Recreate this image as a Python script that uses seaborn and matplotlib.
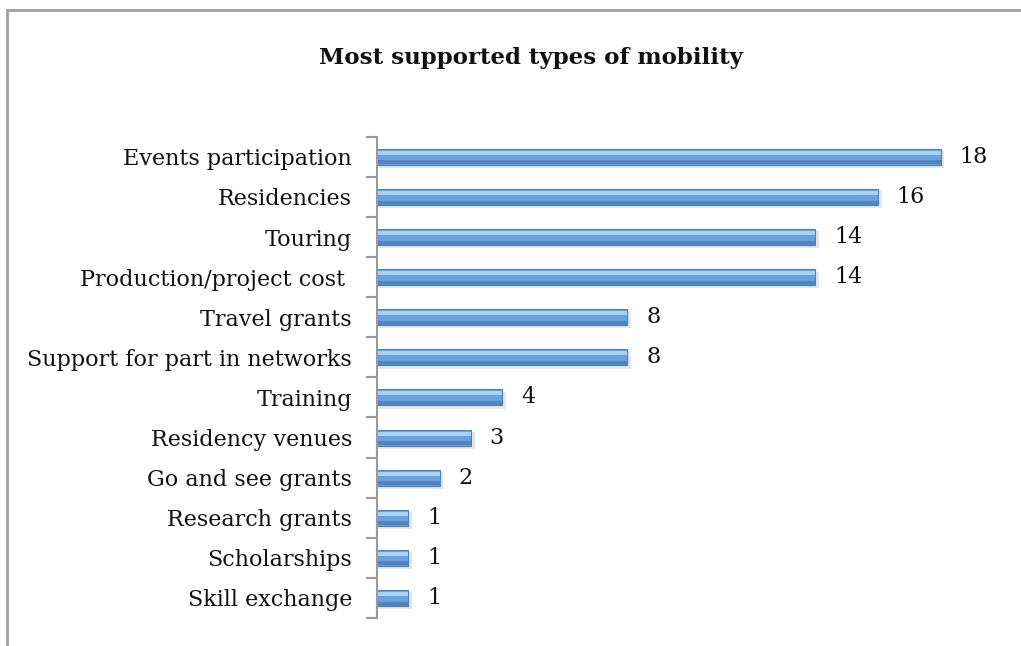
import numpy as np
import matplotlib
matplotlib.use("Agg")
import matplotlib.pyplot as plt
import matplotlib.patches as mpatches
import seaborn as sns
import pandas as pd

# data
categories = ["Events participation", "Residencies", "Touring",
              "Production/project cost ", "Travel grants",
              "Support for part in networks", "Training", "Residency venues",
              "Go and see grants", "Research grants", "Scholarships",
              "Skill exchange"]
counts = [18, 16, 14, 14, 8, 8, 4, 3, 2, 1, 1, 1]

sns.set_theme(style="white")
plt.rcParams["font.family"] = ["DejaVu Serif"]

df = pd.DataFrame({"type": categories, "n": counts})
pos = np.arange(len(counts))

fig = plt.figure(figsize=(10.21, 6.46), dpi=100)
ax = fig.add_axes([0.3693, 0.0433, 0.6132, 0.745])

# shadow under the bars
ax.barh(pos + 0.07, df["n"] + 0.12, height=0.42,
        color="#000000", alpha=0.10, linewidth=0)
sns.barplot(data=df, x="n", y="type", orient="h", color="#6aa2e0",
            saturation=1, width=0.4, edgecolor="#4f80b8", linewidth=0.8, ax=ax)
# highlight on top, darker band below
ax.barh(pos - 0.1, df["n"], height=0.1, color="#a8d3f7", linewidth=0)
ax.barh(pos + 0.14, df["n"], height=0.1, color="#5083bf", linewidth=0)

for i, v in enumerate(counts):
    ax.text(v + 0.6, i, str(v), va="center", ha="left", fontsize=16,
            color="#111111")

ax.set_xlim(0, 20)
ax.set_ylim(len(counts) - 0.5, -0.5)
ax.set_xlabel("")
ax.set_ylabel("")
ax.set_xticks([])
for s in ["top", "right", "bottom"]:
    ax.spines[s].set_visible(False)
ax.spines["left"].set_color("#9a9a9a")
ax.spines["left"].set_linewidth(1.5)

ax.set_yticks(pos)
ax.set_yticklabels(categories, fontsize=16, color="#111111")
ax.tick_params(axis="y", which="major", length=0, pad=18)
ax.set_yticks(np.arange(len(counts) + 1) - 0.5, minor=True)
ax.tick_params(axis="y", which="minor", length=8, width=1.5,
               color="#9a9a9a", left=True)

fig.text(0.5196, 0.91, "Most supported types of mobility", ha="center",
         va="center", fontsize=16.5, fontweight="bold", color="#111111")

# chart frame (cropped on right and bottom)
fig.add_artist(mpatches.Rectangle((0.0069, -0.2), 1.2, 1.1845,
                                  transform=fig.transFigure, fill=False,
                                  edgecolor="#a0a0a0", linewidth=2))

fig.savefig("out.png", dpi=100, facecolor="white")
